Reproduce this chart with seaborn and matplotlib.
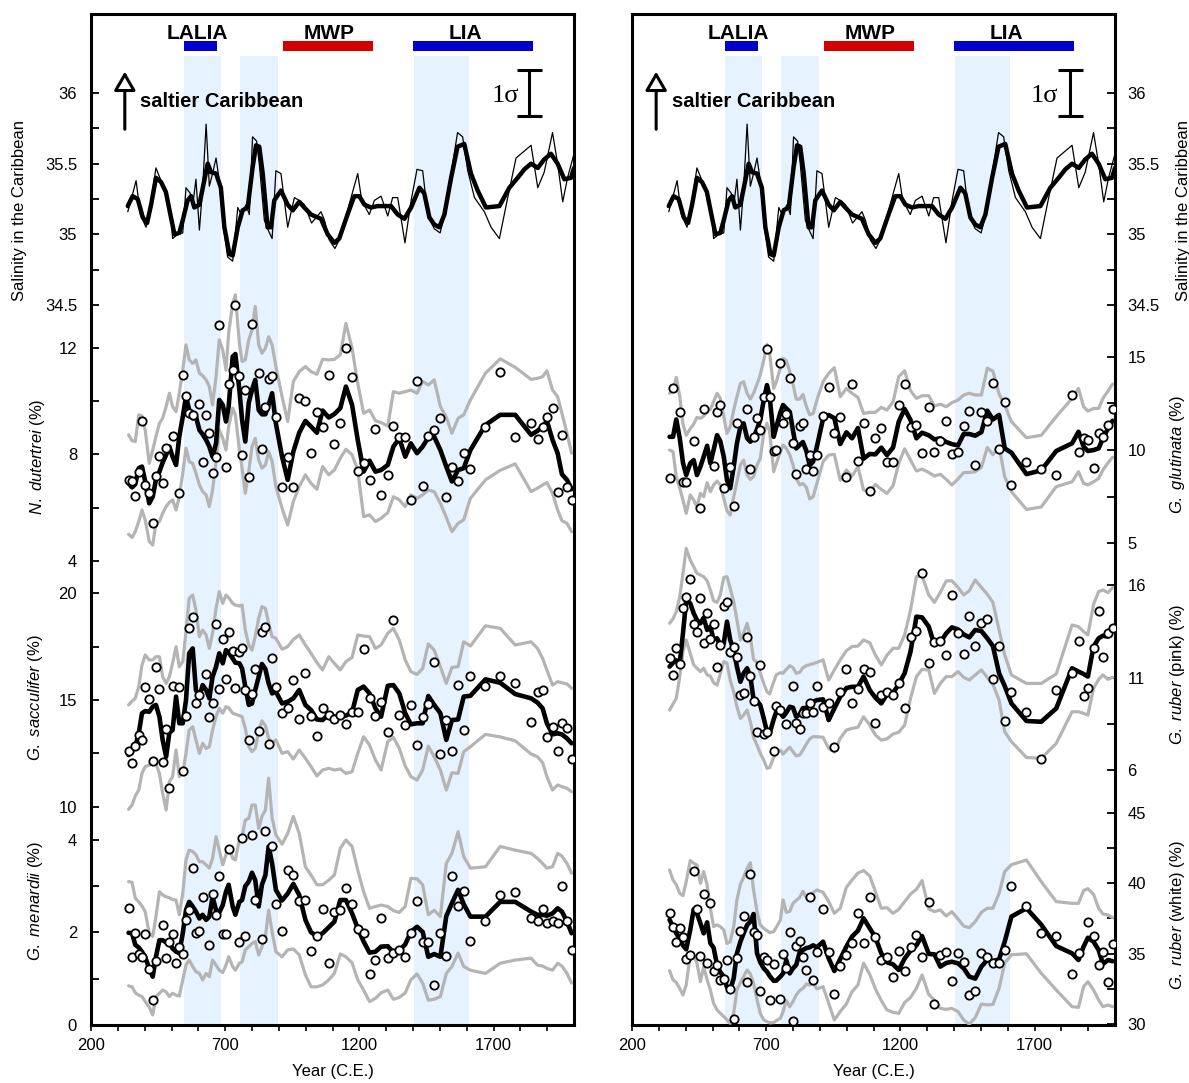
import numpy as np
import seaborn as sns
import matplotlib.pyplot as plt

nan = np.nan

# sample ages (yr C.E.), shared by all foraminifera records
ages = [340, 353, 365, 378, 390, 402, 417, 430, 442, 455,
        467, 480, 492, 504, 517, 529, 542, 554, 566, 579,
        591, 604, 616, 629, 641, 653, 666, 678, 691, 703,
        713, 728, 738, 753, 763, 775, 788, 800, 812, 825,
        837, 850, 862, 875, 889, 912, 933, 954, 976, 999,
        1020, 1042, 1063, 1086, 1107, 1129, 1150, 1173, 1194, 1216,
        1238, 1260, 1281, 1306, 1327, 1349, 1371, 1392, 1415, 1436,
        1457, 1479, 1502, 1524, 1545, 1568, 1589, 1614, 1670, 1725,
        1781, 1840, 1864, 1883, 1899, 1920, 1939, 1955, 1974, 1991]

# salinity reconstruction (smoothed and raw)
sal_yr = [337, 355, 374, 393, 409, 424, 442, 461, 479, 498, 511, 529, 542, 560, 573, 585,
          604, 622, 635, 647, 666, 684, 697, 716, 728, 747, 765, 784, 802, 815, 827, 840,
          858, 871, 883, 908, 933, 952, 976, 995, 1020, 1057, 1082, 1107, 1125, 1156, 1181,
          1200, 1219, 1243, 1268, 1318, 1343, 1368, 1393, 1424, 1442, 1461, 1479, 1498, 1517,
          1542, 1566, 1591, 1616, 1641, 1672, 1722, 1759, 1790, 1815, 1840, 1865, 1889, 1914,
          1939, 1964, 1989, 2000]
sal_smooth = [35.20, 35.27, 35.25, 35.12, 35.08, 35.21, 35.40, 35.37, 35.30, 35.12,
              35.00, 35.01, 35.10, 35.24, 35.27, 35.19, 35.21, 35.38, 35.50, 35.44,
              35.43, 35.33, 35.05, 34.86, 34.85, 35.05, 35.17, 35.19, 35.47, 35.63,
              35.62, 35.43, 35.05, 35.05, 35.24, 35.31, 35.21, 35.17, 35.23, 35.19,
              35.14, 35.11, 35.00, 34.94, 34.97, 35.14, 35.27, 35.27, 35.21, 35.19,
              35.20, 35.20, 35.14, 35.11, 35.19, 35.33, 35.29, 35.12, 35.07, 35.05,
              35.14, 35.40, 35.62, 35.64, 35.43, 35.31, 35.19, 35.20, 35.33, 35.40,
              35.46, 35.50, 35.47, 35.53, 35.57, 35.50, 35.39, 35.40, 35.47]
raw_yr = [337, 349, 368, 384, 405, 424, 442, 461, 479, 498, 504, 523, 542, 554, 570, 579,
          591, 604, 616, 629, 641, 653, 666, 678, 694, 709, 728, 747, 759, 778, 790, 802,
          817, 827, 846, 858, 875, 889, 908, 933, 958, 976, 995, 1022, 1057, 1070, 1088,
          1109, 1125, 1156, 1194, 1209, 1237, 1256, 1281, 1306, 1324, 1343, 1370, 1393,
          1415, 1436, 1455, 1479, 1501, 1517, 1542, 1566, 1585, 1604, 1629, 1666, 1691,
          1722, 1753, 1784, 1840, 1865, 1889, 1920, 1939, 1958, 1976, 2000]
sal_raw = [35.16, 35.24, 35.38, 35.14, 35.05, 35.24, 35.47, 35.38, 35.31, 35.14,
           34.97, 35.00, 35.01, 35.33, 35.29, 35.20, 35.39, 35.03, 35.33, 35.78,
           35.34, 35.43, 35.54, 35.38, 35.05, 34.84, 34.81, 35.19, 35.14, 35.21,
           35.14, 35.69, 35.66, 35.50, 35.10, 35.04, 34.97, 35.45, 35.43, 35.05,
           35.26, 35.24, 35.21, 35.08, 35.16, 35.10, 34.96, 34.90, 34.96, 35.17,
           35.43, 35.24, 35.14, 35.24, 35.27, 35.13, 35.26, 35.26, 34.94, 35.24,
           35.46, 35.45, 35.14, 35.04, 35.01, 35.13, 35.43, 35.72, 35.69, 35.45,
           35.26, 35.16, 35.05, 34.97, 35.26, 35.54, 35.63, 35.33, 35.44, 35.72,
           35.50, 35.23, 35.40, 35.57]

# N. dutertrei (%)
dut_mean = [6.91, 6.76, 6.88, 7.48, 7.54, 6.98, 6.16, 6.41, 7.04, 7.35,
            7.69, 7.98, 8.29, 7.91, 7.60, 8.66, 9.41, 10.16, 9.66, 9.35,
            9.41, 8.91, 8.75, 8.54, 8.29, 7.91, 8.41, 10.04, 9.85, 9.23,
            9.79, 11.66, 11.76, 10.41, 9.29, 8.48, 9.94, 10.41, 10.79, 9.66,
            9.50, 9.50, 9.85, 10.29, 9.16, 7.91, 7.04, 8.10, 8.81, 9.25,
            9.04, 8.81, 9.64, 9.38, 9.51, 9.73, 10.54, 9.85, 8.54, 7.35,
            7.76, 7.35, 7.41, 7.60, 8.29, 8.60, 7.91, 8.41, 8.04, 8.29,
            8.63, 8.66, 8.16, 7.54, 6.98, 7.41, 7.48, 8.16, 9.10, 9.48,
            9.48, 8.73, 8.88, 9.04, 9.25, 8.54, 8.04, 7.25, 7.04, 6.69]
dut_hi = [8.73, 8.51, 8.48, 9.48, 9.44, 8.91, 7.66, 8.16, 8.66, 9.16,
          9.35, 9.79, 10.29, 9.79, 9.60, 10.29, 11.16, 12.10, 11.54, 11.41,
          11.54, 11.04, 10.95, 10.79, 10.54, 9.85, 10.91, 12.29, 11.91, 11.16,
          12.54, 13.66, 13.98, 12.16, 11.48, 11.54, 12.29, 12.66, 13.54, 12.10,
          11.79, 11.98, 12.41, 12.10, 11.29, 10.16, 9.23, 10.73, 11.10, 11.29,
          11.10, 11.00, 11.56, 11.54, 11.56, 11.73, 12.91, 11.98, 10.66, 9.54,
          9.66, 9.26, 9.19, 9.06, 10.35, 10.29, 10.35, 10.41, 10.29, 10.73,
          10.60, 10.79, 9.79, 9.39, 8.79, 9.35, 9.48, 10.04, 11.04, 11.58,
          11.26, 10.81, 10.85, 10.91, 11.13, 10.41, 10.16, 9.54, 8.79, 8.04]
dut_lo = [5.00, 4.88, 5.10, 5.48, 5.91, 5.54, 4.73, 4.60, 5.41, 5.48,
          5.79, 6.04, 6.20, 6.29, 5.91, 6.41, 7.29, 8.23, 7.73, 7.66,
          7.29, 6.85, 6.60, 6.48, 6.04, 6.66, 7.73, 8.91, 8.60, 8.16,
          9.04, 9.73, 9.48, 8.16, 7.48, 6.54, 7.35, 8.29, 8.60, 7.79,
          7.48, 7.60, 8.10, 7.73, 6.79, 5.98, 5.35, 6.23, 6.79, 7.23,
          6.91, 6.69, 7.54, 7.23, 7.41, 7.85, 8.19, 7.98, 7.41, 5.66,
          5.73, 5.48, 5.60, 5.81, 6.41, 6.29, 6.04, 6.48, 6.35, 6.48,
          6.66, 6.60, 6.16, 5.64, 5.10, 5.41, 5.54, 6.35, 7.04, 7.40,
          7.64, 6.60, 6.73, 6.85, 6.94, 6.54, 5.91, 5.51, 5.41, 5.10]
dut_obs = [7.04, 7.00, 6.45, 7.35, 9.26, 6.85, 6.54, 5.44, 7.20, 7.95,
           6.94, 8.23, nan, 8.69, nan, 6.54, 10.98, 10.19, 9.56, 9.48,
           nan, 9.89, 7.70, 9.48, 8.79, 7.28, 7.88, 12.85, nan, 7.53,
           10.64, 11.16, 13.60, 10.95, 7.98, 10.41, 7.14, 12.88, nan, 11.06,
           8.19, 9.79, 10.81, 10.94, 9.38, 6.78, 7.88, 6.79, 10.10, 10.01,
           8.06, 9.60, 9.01, 10.98, 8.38, 9.19, 11.98, 10.88, 7.36, 7.69,
           7.04, 8.94, 6.49, 7.24, 9.06, 8.66, 8.63, 6.29, 10.75, 6.81,
           8.69, 8.91, 9.36, 6.41, 7.51, 7.00, 8.06, 7.43, 9.04, 11.10,
           8.66, 9.16, 8.58, 9.04, 9.38, 9.73, 6.60, 8.73, 6.79, 6.29]

# G. sacculifer (%)
sac_mean = [12.42, 12.63, 12.81, 13.44, 14.38, 14.48, 14.45, 14.69, 14.77, 14.22,
            13.13, 12.34, 13.47, 13.59, 15.16, 13.91, 13.91, 15.00, 17.19, 17.42,
            15.47, 15.16, 15.70, 15.47, 15.08, 16.09, 16.56, 17.19, 16.72, 17.34,
            17.22, 16.95, 16.75, 16.72, 16.48, 15.63, 14.77, 14.84, 15.47, 16.09,
            16.69, 16.45, 15.78, 15.31, 15.39, 14.84, 14.92, 15.08, 15.47, 14.77,
            14.53, 14.09, 14.06, 14.34, 14.22, 14.22, 14.27, 14.42, 15.47, 15.63,
            15.31, 14.61, 14.22, 15.67, 15.70, 15.31, 14.38, 13.86, 13.91, 13.91,
            15.19, 14.77, 14.38, 13.13, 14.06, 14.09, 15.16, 15.20, 15.97, 15.81,
            15.28, 15.08, 14.88, 14.61, 13.91, 13.39, 13.44, 13.39, 13.20, 12.97]
sac_hi = [14.77, 14.95, 15.08, 15.63, 16.64, 17.11, 16.88, 16.88, 17.03, 17.03,
          16.09, 15.78, 16.09, 16.72, 17.50, 16.56, 16.80, 18.20, 19.77, 19.92,
          19.22, 17.97, 18.28, 18.05, 17.42, 18.13, 19.30, 20.08, 19.53, 19.92,
          19.80, 19.53, 19.45, 19.41, 19.45, 18.28, 17.58, 17.34, 17.97, 18.83,
          19.38, 19.30, 18.59, 17.97, 17.89, 17.38, 17.50, 17.84, 18.05, 17.58,
          17.19, 16.75, 16.41, 17.03, 16.72, 16.41, 16.80, 17.00, 18.05, 18.00,
          17.97, 17.42, 17.58, 18.13, 18.36, 17.81, 16.88, 16.33, 16.20, 16.48,
          17.63, 17.34, 16.56, 15.78, 16.53, 16.56, 17.73, 17.53, 18.48, 18.36,
          17.58, 17.73, 17.42, 16.95, 16.41, 15.70, 15.86, 15.81, 15.75, 15.55]
sac_lo = [9.88, 10.08, 10.50, 10.78, 11.56, 11.88, 11.95, 12.03, 12.03, 11.56,
          10.63, 9.84, 11.17, 11.41, 12.66, 11.41, 11.56, 12.50, 13.59, 13.75,
          13.13, 12.50, 12.97, 12.73, 12.81, 13.59, 14.22, 14.61, 14.38, 14.69,
          14.64, 14.38, 14.34, 14.27, 14.22, 13.67, 12.81, 12.58, 12.73, 13.52,
          14.03, 13.80, 13.20, 13.00, 13.13, 12.50, 12.58, 12.23, 12.66, 12.27,
          11.88, 11.44, 11.72, 11.80, 11.72, 11.77, 11.56, 11.64, 12.50, 13.28,
          12.89, 12.19, 11.72, 13.05, 13.25, 12.73, 11.91, 11.41, 11.25, 11.72,
          12.84, 12.34, 11.72, 10.78, 11.59, 11.56, 12.58, 12.81, 13.39, 13.27,
          13.09, 12.47, 12.34, 12.06, 11.41, 10.78, 11.02, 10.94, 10.86, 10.70]
sac_obs = [12.63, 12.05, 12.84, 13.36, 13.13, 15.63, 15.06, 12.14, 16.56, 15.52,
           12.08, 13.63, 10.89, 15.66, nan, 15.59, 11.67, 14.25, 18.39, 18.91,
           14.86, 15.23, nan, 16.20, 14.22, 14.88, 18.56, 15.53, 17.84, 15.98,
           18.20, 17.31, 15.56, 17.23, 17.45, 15.47, 13.13, 15.28, 16.47, 13.55,
           18.20, 18.42, 12.92, 16.98, 15.59, 14.38, 14.63, 15.94, 14.11, 16.28,
           14.27, 13.30, 14.63, 14.28, 14.11, 14.28, 13.88, 14.44, 14.44, 17.39,
           15.09, 14.27, 14.89, 13.50, 18.73, 14.30, 13.83, 14.78, 12.88, 14.22,
           14.83, 16.78, 12.47, 14.06, 12.59, 15.69, 13.58, 16.14, 15.66, 16.13,
           15.78, 13.95, 15.36, 15.45, 13.27, 13.73, 12.61, 13.94, 13.70, 12.25]

# G. menardii (%)
men_mean = [1.99, 1.98, 1.73, 1.67, 1.58, 1.46, 1.22, 1.04, 1.47, 1.83,
            1.83, 1.78, 1.76, 1.65, 1.58, 1.55, 1.98, 2.48, 2.66, 2.56,
            2.45, 2.30, 2.38, 2.27, 2.34, 2.77, 2.48, 2.43, 2.59, 2.88,
            3.03, 2.56, 2.38, 2.66, 2.70, 3.00, 3.10, 3.29, 3.13, 2.56,
            3.03, 3.24, 3.86, 3.49, 2.92, 2.69, 2.84, 3.05, 2.81, 2.27,
            2.00, 1.92, 1.98, 2.11, 2.23, 2.70, 2.70, 2.41, 2.09, 1.80,
            1.56, 1.58, 1.69, 1.70, 1.56, 1.60, 1.74, 2.01, 2.12, 2.01,
            1.47, 1.53, 1.47, 2.35, 2.63, 2.92, 2.61, 2.34, 2.34, 2.66,
            2.66, 2.45, 2.38, 2.38, 2.36, 2.41, 2.52, 2.45, 2.23, 1.98]
men_hi = [3.10, 3.08, 2.74, 2.66, 2.57, 2.45, 1.98, 1.91, 2.34, 2.88,
          2.81, 2.77, 2.75, 2.71, 2.70, 2.38, 2.84, 3.57, 3.78, 3.75,
          3.68, 3.53, 3.53, 3.46, 3.39, 3.60, 4.07, 3.78, 3.46, 3.68,
          3.86, 3.60, 3.57, 4.01, 4.07, 4.43, 4.47, 4.76, 4.76, 4.25,
          4.51, 4.65, 5.34, 4.47, 4.11, 3.91, 4.14, 4.51, 4.14, 3.42,
          3.24, 3.03, 3.03, 3.13, 3.24, 3.82, 4.00, 3.86, 3.35, 2.88,
          2.52, 2.56, 2.59, 2.56, 2.47, 2.43, 2.56, 3.17, 3.16, 3.03,
          2.38, 2.48, 2.34, 3.49, 3.71, 4.18, 3.64, 3.39, 3.42, 3.86,
          3.78, 3.71, 3.60, 3.49, 3.39, 3.42, 3.71, 3.65, 3.49, 3.28]
men_lo = [0.84, 0.82, 0.69, 0.64, 0.61, 0.50, 0.38, 0.21, 0.61, 0.68,
          0.75, 0.71, 0.61, 0.68, 0.64, 0.62, 0.97, 1.29, 1.40, 1.26,
          1.15, 1.11, 0.97, 1.11, 1.04, 1.40, 1.29, 1.18, 1.13, 1.29,
          1.47, 1.26, 1.18, 1.33, 1.36, 1.62, 1.69, 1.76, 1.80, 1.51,
          1.69, 1.91, 2.48, 2.01, 1.58, 1.47, 1.62, 1.64, 1.51, 1.08,
          0.82, 0.82, 0.86, 0.97, 1.11, 1.53, 1.47, 1.34, 0.97, 0.75,
          0.50, 0.57, 0.69, 0.75, 0.55, 0.59, 0.69, 0.97, 1.10, 0.90,
          0.53, 0.55, 0.61, 1.11, 1.26, 1.55, 1.26, 1.18, 1.11, 1.33,
          1.40, 1.44, 1.29, 1.27, 1.22, 1.18, 1.33, 1.27, 1.11, 0.90]
men_obs = [2.53, 1.46, 1.99, 1.53, 1.46, 1.96, 1.20, 0.53, 1.38, nan,
           2.16, 1.45, 1.80, 1.96, 1.33, 1.69, 1.52, 2.27, 2.48, 3.40,
           1.99, 2.03, 2.77, nan, 1.72, 2.83, 2.38, 3.21, 1.96, 1.96,
           3.81, nan, nan, 1.78, 4.05, 1.91, nan, 4.11, 2.71, nan,
           1.86, 4.19, nan, 3.86, 2.61, 2.03, 3.34, 3.25, 2.68, 2.71,
           1.60, 1.91, 2.51, 1.34, 2.45, 2.48, 2.97, 2.61, 2.07, 1.98,
           1.10, 1.41, 2.30, 1.44, 1.55, 1.62, 1.46, 1.99, 2.68, 1.78,
           1.78, 0.85, 1.99, 1.49, 3.21, 2.58, 2.89, 1.81, 2.25, 2.80,
           2.88, 2.30, 2.25, 2.51, 2.20, 2.25, 2.20, 3.01, 2.25, 1.62]

# G. glutinata (%)
glu_mean = [10.71, 10.71, 11.64, 10.63, 9.32, 8.66, 9.29, 9.46, 8.66, 9.11,
            9.64, 10.23, 9.29, 10.00, 10.80, 10.48, 9.64, 8.39, 7.95, 9.11,
            10.36, 11.25, 11.43, 10.63, 10.45, 10.63, 11.13, 11.61, 12.68, 13.48,
            12.86, 10.71, 11.25, 12.02, 12.41, 12.23, 12.05, 11.04, 10.09, 10.27,
            10.43, 9.95, 9.18, 9.38, 10.18, 11.68, 11.88, 11.71, 10.32, 10.95,
            10.63, 11.18, 9.54, 9.79, 9.77, 10.13, 9.73, 10.14, 11.52, 12.20,
            11.61, 10.63, 10.93, 10.79, 10.57, 10.63, 10.43, 10.32, 10.25, 10.86,
            10.86, 10.77, 10.96, 12.11, 11.64, 11.88, 10.09, 9.86, 8.71, 8.91,
            9.95, 10.36, 10.98, 10.18, 9.95, 10.00, 10.09, 10.63, 11.16, 11.57]
glu_hi = [13.04, 13.18, 13.89, 12.86, 11.39, 10.79, 11.14, 11.39, 11.75, 11.70,
          11.82, 12.09, 12.18, 12.59, 13.04, 12.77, 11.79, 10.89, 11.25, 12.14,
          12.86, 13.57, 13.66, 13.04, 12.73, 13.04, 13.54, 14.02, 14.82, 15.66,
          15.18, 13.30, 13.66, 14.41, 14.91, 14.79, 14.20, 13.54, 12.73, 12.73,
          12.98, 12.32, 11.89, 11.96, 12.68, 13.66, 14.11, 14.41, 12.86, 13.30,
          13.04, 12.82, 11.96, 12.02, 12.02, 12.29, 12.14, 12.59, 13.93, 14.25,
          13.18, 12.77, 12.91, 12.91, 12.36, 12.46, 12.32, 12.54, 12.68, 12.95,
          13.04, 12.95, 12.95, 14.38, 14.23, 13.00, 12.41, 11.52, 10.66, 10.79,
          11.79, 12.77, 13.30, 12.32, 12.09, 12.23, 12.23, 12.77, 13.16, 13.54]
glu_lo = [10.00, 9.91, 8.57, 7.95, 7.32, 6.61, 7.59, 7.32, 6.96, 7.68,
          7.50, 8.25, 7.77, 8.13, 8.34, 8.13, 7.41, 6.75, 6.52, 7.50,
          8.30, 9.20, 9.46, 8.66, 8.43, 8.57, 9.20, 9.55, 10.89, 11.43,
          10.98, 8.84, 9.29, 9.91, 10.27, 10.09, 9.75, 9.20, 8.48, 8.13,
          8.21, 8.00, 7.38, 7.50, 8.21, 9.38, 9.73, 9.77, 8.39, 8.93,
          8.61, 9.11, 7.86, 7.77, 8.16, 7.89, 7.68, 8.09, 9.29, 10.07,
          9.46, 8.88, 8.98, 8.80, 8.61, 8.70, 8.43, 8.13, 8.45, 8.79,
          8.80, 8.84, 9.07, 10.14, 9.75, 10.18, 8.57, 7.77, 6.82, 6.95,
          8.04, 8.30, 8.84, 8.21, 8.14, 8.30, 8.48, 8.93, 9.32, 9.61]
glu_obs = [8.48, 13.30, nan, 12.05, 8.29, 8.30, nan, 10.50, nan, 6.91,
           12.21, nan, nan, 9.14, 12.05, 12.39, 7.98, nan, 9.11, 7.02,
           11.46, nan, nan, 12.18, 8.96, 10.71, 11.70, 11.07, 12.86, 15.39,
           12.86, 9.95, 10.00, 14.64, 11.43, 11.93, 13.86, 10.36, 8.71, 11.30,
           11.46, 8.98, 9.73, 8.89, 9.73, 11.84, 13.38, 10.89, 11.79, 8.55,
           13.54, 9.39, 11.46, 7.79, 10.64, 11.18, 9.36, 9.36, 12.39, 13.55,
           11.25, 11.32, 9.84, 12.30, 9.88, 10.48, 11.54, 9.80, 9.91, 11.27,
           12.09, 9.21, 12.05, 11.57, 13.57, 10.04, 12.57, 8.11, 9.38, 8.96,
           8.68, 12.96, 9.91, 10.64, 10.54, 9.02, 10.93, 10.71, 11.34, 12.18]

# G. ruber pink (%)
pnk_mean = [11.59, 11.80, 11.93, 11.80, 13.39, 15.19, 15.01, 14.47, 14.11, 13.93,
            14.23, 13.57, 13.75, 13.06, 13.12, 12.77, 12.85, 14.02, 13.03, 12.49,
            11.59, 10.77, 11.23, 11.50, 11.05, 9.82, 9.73, 9.51, 8.79, 8.07,
            7.98, 8.74, 9.17, 9.10, 8.88, 9.10, 9.42, 9.37, 8.88, 9.01,
            9.35, 9.35, 9.55, 9.69, 9.78, 9.82, 8.70, 9.33, 9.96, 10.43,
            10.50, 10.50, 11.05, 10.32, 9.91, 9.60, 10.09, 10.18, 10.63, 11.23,
            12.40, 14.29, 14.25, 13.75, 12.76, 12.90, 13.39, 13.71, 13.60, 13.33,
            13.17, 13.57, 13.51, 13.12, 12.70, 11.23, 10.54, 9.60, 8.65, 8.61,
            9.33, 11.50, 11.32, 11.19, 11.05, 12.67, 13.12, 13.26, 13.21, 13.60]
pnk_hi = [13.93, 14.18, 14.56, 15.37, 16.63, 17.98, 17.35, 16.99, 16.63, 16.54,
          16.45, 16.23, 15.73, 15.15, 15.06, 15.46, 16.41, 16.45, 15.82, 15.10,
          14.11, 13.03, 13.39, 13.93, 13.21, 11.98, 11.80, 11.23, 10.68, 10.23,
          10.11, 10.77, 11.15, 11.26, 11.23, 11.44, 11.64, 11.53, 11.23, 11.28,
          11.53, 11.64, 11.69, 11.75, 11.82, 11.95, 10.86, 11.41, 11.95, 12.45,
          12.67, 12.70, 13.03, 12.88, 12.22, 11.68, 12.20, 12.58, 12.58, 13.30,
          14.65, 16.45, 16.49, 15.46, 15.06, 15.60, 16.22, 16.23, 15.87, 15.46,
          15.69, 16.27, 15.87, 15.50, 15.06, 13.57, 12.22, 11.14, 10.68, 10.68,
          11.19, 13.84, 13.75, 13.48, 13.30, 14.95, 15.64, 15.73, 15.59, 15.86]
pnk_lo = [9.24, 9.57, 9.87, 11.05, 12.40, 13.03, 12.31, 11.68, 11.50, 11.32,
          11.50, 11.14, 11.08, 10.72, 10.59, 11.19, 11.86, 11.77, 10.86, 10.23,
          9.42, 8.79, 8.97, 9.24, 8.61, 7.75, 7.35, 6.90, 6.54, 6.09,
          6.13, 6.68, 6.95, 7.08, 6.86, 7.05, 7.23, 6.99, 6.76, 6.81,
          7.08, 7.41, 7.68, 7.80, 7.80, 7.77, 7.17, 6.97, 7.71, 8.16,
          8.25, 8.31, 8.88, 8.43, 7.89, 7.62, 7.68, 7.95, 8.04, 8.43,
          9.87, 11.05, 11.44, 11.41, 10.14, 10.68, 11.05, 11.05, 11.32, 11.01,
          10.86, 11.14, 11.41, 11.01, 10.63, 9.78, 8.07, 7.53, 6.68, 6.63,
          7.44, 9.15, 9.15, 9.06, 8.97, 10.41, 10.90, 11.14, 10.90, 11.01]
pnk_obs = [12.04, 11.15, 12.58, 11.71, 14.76, 15.37, 16.32, 13.89, 13.48, 15.28,
           12.86, 14.50, 13.08, 13.87, 11.57, 12.74, 14.88, 15.08, 12.38, 12.65,
           12.13, 10.04, 10.14, 13.21, 11.08, 9.73, 8.04, 11.69, 7.93, 8.07,
           nan, 7.01, 9.46, 9.24, nan, 8.49, nan, 10.52, 8.52, 8.20,
           9.10, 9.06, 9.60, 9.15, 10.54, 9.39, 9.64, 7.26, 10.23, 11.44,
           9.62, 10.38, 11.48, 11.28, 8.56, 10.05, 10.23, 10.05, 10.70, 9.33,
           13.21, 13.51, 16.67, 11.77, 12.94, 12.97, 12.23, 15.48, 13.42, 12.29,
           14.32, 12.70, 13.93, 14.14, 10.94, 12.70, 8.67, 10.20, 9.14, 6.58,
           10.31, 11.23, 12.95, 10.00, 10.45, 12.58, 14.61, 12.11, 13.39, 13.66]

# G. ruber white (%)
wht_mean = [37.39, 36.92, 36.44, 36.04, 35.59, 35.31, 36.68, 38.15, 37.86, 37.15,
            36.44, 37.22, 35.74, 35.43, 34.20, 33.70, 33.37, 32.62, 32.43, 33.25,
            35.02, 35.85, 36.44, 37.03, 37.27, 37.81, 35.02, 34.39, 33.96, 33.72,
            33.42, 33.07, 33.09, 33.37, 33.60, 34.55, 33.60, 33.96, 34.20, 35.10,
            35.26, 35.40, 35.45, 35.59, 35.45, 35.85, 34.67, 33.77, 34.62, 35.50,
            36.21, 36.63, 37.51, 36.80, 36.16, 35.02, 34.39, 34.24, 33.84, 34.65,
            35.21, 35.59, 36.25, 34.98, 34.95, 34.08, 34.34, 34.43, 34.31, 33.96,
            33.37, 33.23, 34.08, 34.55, 34.46, 34.60, 35.85, 37.63, 38.22, 37.06,
            35.54, 35.02, 34.55, 35.50, 36.13, 35.85, 35.26, 34.27, 34.55, 34.46]
wht_hi = [40.93, 40.22, 39.89, 39.28, 39.11, 40.11, 41.60, 41.41, 41.29, 39.99,
          40.82, 39.87, 38.22, 36.92, 37.04, 36.92, 36.68, 35.73, 35.85, 36.92,
          38.81, 39.92, 40.41, 41.05, 41.45, 39.52, 37.98, 37.04, 36.80, 36.63,
          36.49, 36.56, 36.87, 37.39, 38.81, 37.93, 38.00, 38.57, 38.78, 38.99,
          39.42, 38.97, 39.04, 39.33, 39.52, 39.35, 38.69, 37.86, 38.22, 39.71,
          40.22, 40.72, 40.89, 40.51, 39.40, 38.22, 38.26, 37.86, 38.14, 38.69,
          39.23, 39.56, 40.18, 38.17, 37.98, 38.10, 37.67, 37.98, 37.46, 36.96,
          36.84, 37.27, 37.93, 38.22, 38.22, 39.28, 40.82, 41.31, 41.64, 40.11,
          38.69, 38.57, 38.57, 39.47, 39.61, 39.21, 38.22, 37.81, 37.74, 37.55]
wht_lo = [33.79, 33.14, 32.95, 32.52, 32.07, 32.78, 34.92, 34.85, 34.33, 33.01,
          34.08, 33.14, 32.43, 31.48, 31.01, 30.77, 30.54, 30.30, 30.06, 30.77,
          32.43, 32.95, 33.37, 33.84, 33.56, 32.90, 31.71, 30.77, 30.30, 30.18,
          30.09, 30.11, 30.25, 30.42, 30.89, 31.67, 31.24, 31.60, 32.07, 32.38,
          32.54, 32.85, 32.78, 32.90, 32.50, 32.66, 31.48, 30.30, 30.89, 31.43,
          32.30, 32.78, 34.33, 33.53, 32.50, 31.67, 31.01, 30.84, 30.77, 31.53,
          31.90, 32.54, 33.49, 32.10, 31.71, 31.12, 31.05, 31.12, 30.89, 30.30,
          30.00, 30.46, 31.43, 31.36, 31.40, 32.54, 34.33, 34.92, 34.99, 33.61,
          32.43, 31.24, 31.19, 32.66, 33.01, 32.43, 31.71, 31.24, 31.36, 31.24]
wht_obs = [37.88, 36.92, 35.81, 36.80, 36.21, 34.65, 34.92, 40.89, 38.15, 34.86,
           39.23, 34.36, 38.57, 33.79, 34.22, 33.14, 33.18, 34.55, 32.47, 30.37,
           34.72, 36.63, 37.67, 32.97, 40.63, 36.56, 36.32, 32.33, 34.79, 34.55,
           31.71, 34.27, nan, 31.79, 34.98, 33.96, 36.51, 30.25, 35.53, 35.90,
           34.79, 33.82, 39.02, 33.14, 35.10, 38.15, 35.14, 32.11, 34.12, 34.93,
           35.73, 37.91, 35.73, 39.00, 36.16, 34.55, 34.79, 33.32, 35.17, 33.75,
           35.45, 36.30, 34.79, 38.69, 31.41, 34.93, 35.14, 33.04, 35.07, 34.43,
           32.09, 32.37, 35.07, 34.79, 34.33, 34.33, 35.26, 39.82, 38.38, 36.49,
           36.25, 33.56, 35.02, nan, 37.27, 36.25, 34.20, 35.14, 33.02, 35.67]

# climate periods and shaded intervals (yr C.E.)
period_names = ['LALIA', 'MWP', 'LIA']
period_start = [547, 915, 1400]
period_end = [670, 1251, 1847]
period_text_x = [595, 1087, 1594]
period_colors = ['#0000cd', '#d20000', '#0000cd']
band_start = [547, 757, 1402]
band_end = [683, 898, 1609]

sal_sigma = 0.163

sns.set_theme(style="ticks")
plt.rcParams['font.family'] = ['Liberation Sans', 'DejaVu Sans']
plt.rcParams['mathtext.fontset'] = 'custom'
plt.rcParams['mathtext.rm'] = 'Liberation Sans'
plt.rcParams['mathtext.it'] = 'Liberation Sans:italic'
plt.rcParams['axes.linewidth'] = 2.2
plt.rcParams['text.color'] = 'black'
plt.rcParams['axes.labelcolor'] = 'black'

GREY = '#b4b4b4'
BAND = '#e6f2fd'


def add_axis(base, side, ylim, majors, minors, label, label_xy):
    """Twin y axis with its own scale, ticks and label."""
    ax = base.twinx()
    if side == 'left':
        ax.yaxis.tick_left()
        ax.yaxis.set_label_position('left')
        pad = 10
    else:
        ax.yaxis.tick_right()
        ax.yaxis.set_label_position('right')
        pad = 9
    for sp in ax.spines.values():
        sp.set_visible(False)
    ax.set_ylim(*ylim)
    ax.set_yticks(majors)
    ax.set_yticklabels([f'{v:g}' for v in majors])
    ax.set_yticks(minors, minor=True)
    ax.tick_params(axis='y', which='both', direction='in', length=6, width=1.3,
                   labelsize=12, pad=pad, colors='black')
    ax.set_ylabel(label, fontsize=12, color='black')
    ax.yaxis.set_label_coords(*label_xy)
    return ax


def draw_record(ax, mean, hi, lo, obs):
    for band in (hi, lo):
        sns.lineplot(x=ages, y=band, ax=ax, color=GREY, lw=2.3, errorbar=None)
    sns.lineplot(x=ages, y=mean, ax=ax, color='black', lw=3.3, errorbar=None)
    sns.scatterplot(x=ages, y=obs, ax=ax, color='white', edgecolor='black',
                    s=36, linewidth=1.3, zorder=5)


def draw_salinity(ax, side):
    sns.lineplot(x=raw_yr, y=sal_raw, ax=ax, color='black', lw=0.9, errorbar=None)
    sns.lineplot(x=sal_yr, y=sal_smooth, ax=ax, color='black', lw=3.2, errorbar=None)
    # 1 sigma bracket
    ax.errorbar([1832], [36.0], yerr=sal_sigma, color='black', lw=2.2,
                capsize=9, capthick=2.2)
    tx = 0.886 if side == 'left' else 0.882
    ax.text(tx, 0.919, '1σ', transform=ax.transAxes, ha='right', va='center',
            fontsize=19, family='Liberation Serif', color='black')
    ax_x = 0.070 if side == 'left' else 0.050
    ax.annotate('', xy=(ax_x, 0.943), xytext=(ax_x, 0.886), xycoords='axes fraction',
                arrowprops=dict(arrowstyle='-|>,head_length=0.95,head_width=0.55',
                                lw=2.2, fc='white', ec='black', shrinkA=0, shrinkB=0))
    ax.text(ax_x + 0.032, 0.913, 'saltier Caribbean', transform=ax.transAxes,
            fontsize=14.5, fontweight='bold', va='center', color='black')


def setup_base(base):
    base.set_xlim(200, 2000)
    base.set_ylim(0, 1)
    base.set_yticks([])
    base.set_xticks([200, 700, 1200, 1700])
    base.set_xticks(range(300, 2000, 100), minor=True)
    base.tick_params(axis='x', which='both', direction='out', length=4.5, width=1.2,
                     labelsize=12, pad=5, colors='black')
    base.set_xlabel('Year (C.E.)', fontsize=12, labelpad=8, color='black')
    for sp in base.spines.values():
        sp.set_visible(True)
        sp.set_linewidth(2.2)
        sp.set_color('black')
    trans = base.get_xaxis_transform()
    for x0, x1 in zip(band_start, band_end):
        base.axvspan(x0, x1, ymin=0, ymax=0.958, color=BAND, lw=0, zorder=0)
    for name, x0, x1, xt, c in zip(period_names, period_start, period_end,
                                   period_text_x, period_colors):
        base.plot([x0, x1], [0.968, 0.968], transform=trans, color=c, lw=7.2,
                  solid_capstyle='butt')
        base.text(xt, 0.981, name, transform=trans, ha='center', va='center',
                  fontsize=15, fontweight='bold', color='black')


fig = plt.figure(figsize=(11.89, 10.83), dpi=100)
left = fig.add_axes([91 / 1189, 58 / 1083, 483 / 1189, 1011 / 1083])
right = fig.add_axes([632 / 1189, 58 / 1083, 483 / 1189, 1011 / 1083])
for base in (left, right):
    base.set_facecolor('white')
    setup_base(base)

sal_ylim = (29.406, 36.559)
sal_major = [34.5, 35, 35.5, 36]
sal_minor = [34.75, 35.25, 35.75]

# left panel
ax = add_axis(left, 'left', sal_ylim, sal_major, sal_minor,
              'Salinity in the Caribbean', (-0.1325, 0.806))
draw_salinity(ax, 'left')
ax = add_axis(left, 'left', (-13.40, 24.51), [4, 8, 12], [6, 10],
              r'$\mathit{N.\ dutertrei}$ (%)', (-0.091, 0.562))
draw_record(ax, dut_mean, dut_hi, dut_lo, dut_obs)
ax = add_axis(left, 'left', (-0.234, 47.16), [10, 15, 20], [12.5, 17.5],
              r'$\mathit{G.\ sacculifer}$ (%)', (-0.095, 0.324))
draw_record(ax, sac_mean, sac_hi, sac_lo, sac_obs)
ax = add_axis(left, 'left', (-0.007, 21.89), [0, 2, 4], [1, 3],
              r'$\mathit{G.\ menardii}$ (%)', (-0.095, 0.123))
draw_record(ax, men_mean, men_hi, men_lo, men_obs)

# right panel
ax = add_axis(right, 'right', sal_ylim, sal_major, sal_minor,
              'Salinity in the Caribbean', (1.126, 0.806))
draw_salinity(ax, 'right')
ax = add_axis(right, 'right', (-20.80, 33.36), [5, 10, 15], [7.5, 12.5],
              r'$\mathit{G.\ glutinata}$ (%)', (1.110, 0.564))
draw_record(ax, glu_mean, glu_hi, glu_lo, glu_obs)
ax = add_axis(right, 'right', (-7.78, 46.86), [6, 11, 16], [8.5, 13.5],
              r'$\mathit{G.\ ruber}$ (pink) (%)', (1.110, 0.347))
draw_record(ax, pnk_mean, pnk_hi, pnk_lo, pnk_obs)
ax = add_axis(right, 'right', (29.94, 101.64), [30, 35, 40, 45], [32.5, 37.5, 42.5],
              r'$\mathit{G.\ ruber}$ (white) (%)', (1.110, 0.109))
draw_record(ax, wht_mean, wht_hi, wht_lo, wht_obs)

for base in (left, right):
    base.set_xlim(200, 2000)

fig.savefig('out.png', dpi=100)
